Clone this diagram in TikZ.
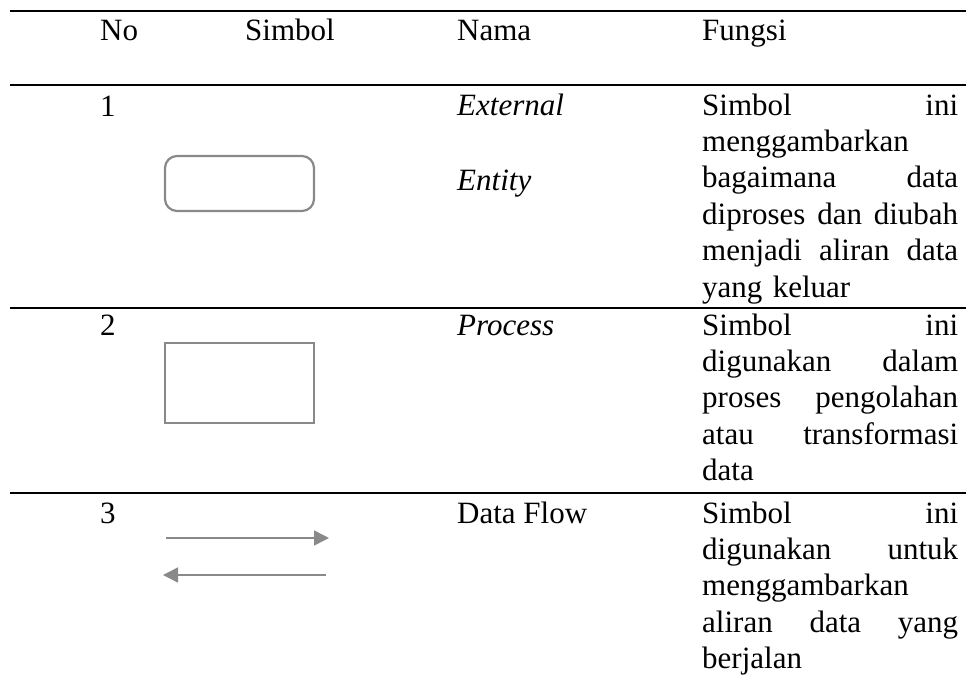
\documentclass[tikz,border=0pt]{standalone}
\usepackage{fontspec}
\setmainfont{Liberation Serif}
\usepackage{tikz}
\usetikzlibrary{arrows.meta}
\definecolor{symgray}{RGB}{137,137,137}
\newcommand{\jl}[1]{{\spaceskip=0.25em plus 1fil\makebox[256pt][s]{#1}}}

\begin{document}
\begin{tikzpicture}[x=1pt,y=-1pt,font=\fontsize{31}{36.4}\selectfont]
    \tikzstyle{cell}=[anchor=base west,inner sep=0]
    \tikzstyle{fungsi}=[cell,text width=256pt,align=left]
    \tikzstyle{rule}=[line width=2.2pt]
    \tikzstyle{entity box}=[draw=symgray,line width=2.2pt,rounded corners=12pt,minimum width=149pt,minimum height=55pt,inner sep=0]
    \tikzstyle{process box}=[draw=symgray,line width=2.2pt,minimum width=149pt,minimum height=80pt,inner sep=0]
    \tikzstyle{flow}=[draw=symgray,line width=1.5pt,-{Triangle[length=15pt,width=15pt]}]

    \useasboundingbox (0,0) rectangle (966,677);

    \draw[rule] (10,11) -- (966,11);
    \draw[rule] (10,85) -- (966,85);
    \draw[rule] (10,308) -- (966,308);
    \draw[rule] (10,493) -- (966,493);

    \node(no)[cell] at (100,41) {No};
    \node(simbol)[cell] at (245,41) {Simbol};
    \node(nama)[cell] at (457,41) {Nama};
    \node(fungsi)[cell] at (702,41) {Fungsi};

    \node(n1)[cell] at (100,116) {1};
    \node(ent)[entity box] at (239.5,183.5) {};
    \node(ext)[cell] at (457,115) {\itshape External};
    \node(enty)[cell] at (457,190) {\itshape Entity};
    \node(f1)[fungsi] at (702,115) {\jl{Simbol ini}\\ menggambarkan\\ \jl{bagaimana data}\\ \jl{diproses dan diubah}\\ \jl{menjadi aliran data}\\ yang keluar};

    \node(n2)[cell] at (100,335) {2};
    \node(proc)[process box] at (239.5,383) {};
    \node(pr)[cell] at (457,335) {\itshape Process};
    \node(f2)[fungsi] at (702,335) {\jl{Simbol ini}\\ \jl{digunakan dalam}\\ \jl{proses pengolahan}\\ \jl{atau transformasi}\\ data};

    \node(n3)[cell] at (100,523) {3};
    \coordinate(a1) at (166,538);
    \coordinate(b1) at (329,538);
    \coordinate(a2) at (326,575);
    \coordinate(b2) at (163,575);
    \draw[flow] (a1) -- (b1);
    \draw[flow] (a2) -- (b2);
    \node(df)[cell] at (457,523) {Data Flow};
    \node(f3)[fungsi] at (702,523) {\jl{Simbol ini}\\ \jl{digunakan untuk}\\ menggambarkan\\ \jl{aliran data yang}\\ berjalan};
\end{tikzpicture}
\end{document}
